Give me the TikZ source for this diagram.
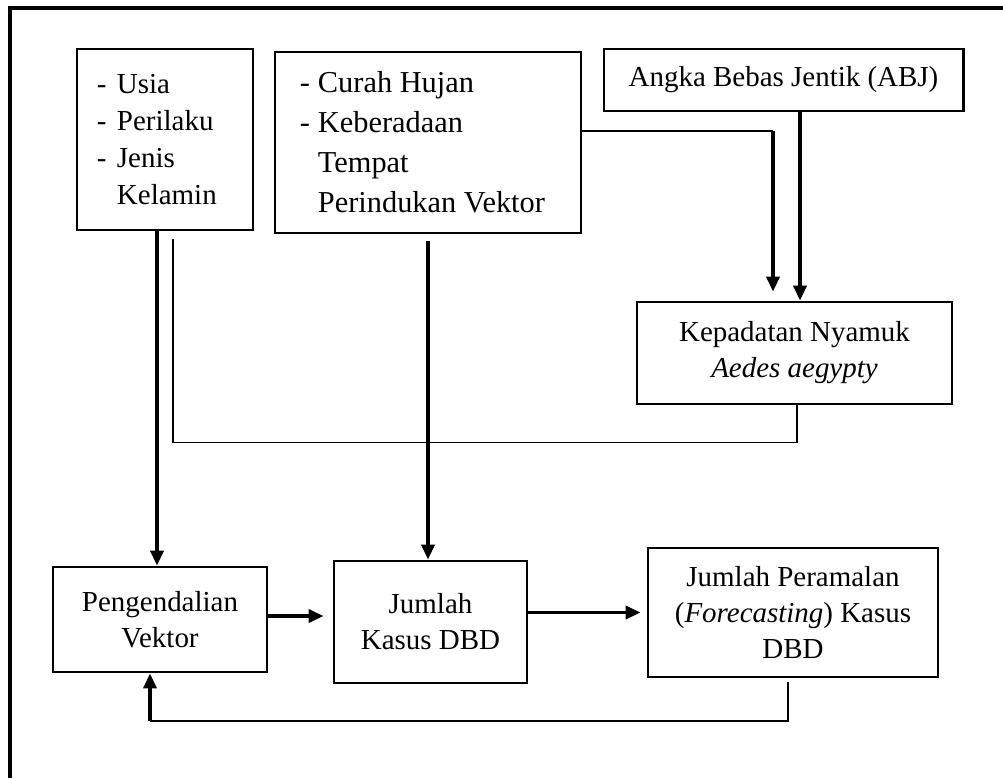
\documentclass[tikz,border=0pt]{standalone}
\usepackage{fontspec}
\setmainfont{Liberation Serif}
\usetikzlibrary{arrows.meta}

\tikzset{
  box/.style={draw, line width=0.072cm, inner sep=0pt, align=center,
    font=\fontsize{20.6}{25.6}\selectfont},
  arr/.style={line width=0.08cm, -{Triangle[length=0.375cm, width=0.33cm]}},
  link/.style={line width=0.038cm},
  frame/.style={line width=0.08cm}
}
\newcommand{\itemdash}[1]{\makebox[#1][l]{-}}

\begin{document}
\begin{tikzpicture}[x=0.025cm, y=-0.025cm]
    \useasboundingbox (0,0) rectangle (1003,778);
    \draw[frame] (10,778) -- (10,8) -- (1003,8);

    \node[box, minimum width=4.4cm, minimum height=4.525cm, text width=3.4cm, align=flush left,
      font=\fontsize{20.6}{26.3}\selectfont] (usia) at (165,139.5)
      {\itemdash{0.5cm}Usia\\\itemdash{0.5cm}Perilaku\\\itemdash{0.5cm}Jenis\\\hspace*{0.5cm}Kelamin};
    \node[box, minimum width=7.65cm, minimum height=4.525cm, text width=6.4cm, align=flush left,
      font=\fontsize{21.6}{28.4}\selectfont] (curah) at (428,142.5)
      {\itemdash{0.45cm}Curah Hujan\\\itemdash{0.45cm}Keberadaan\\\hspace*{0.45cm}Tempat\\\hspace*{0.45cm}Perindukan Vektor};
    \node[box, minimum width=8.975cm, minimum height=1.55cm] (abj) at (783.5,80) {Angka Bebas Jentik (ABJ)};
    \node[box, minimum width=7.875cm, minimum height=2.55cm] (nyamuk) at (794.5,353)
      {Kepadatan Nyamuk\\\textit{Aedes aegypty}};
    \node[box, minimum width=5.35cm, minimum height=2.625cm] (kendali) at (160,619.5) {Pengendalian\\Vektor};
    \node[box, minimum width=4.825cm, minimum height=3.05cm] (kasus) at (430.5,622) {Jumlah\\Kasus DBD};
    \node[box, minimum width=7.25cm, minimum height=3.225cm] (ramal) at (793,612.5)
      {Jumlah Peramalan\\(\textit{Forecasting}) Kasus\\DBD};

    \draw[arr] ([shift={(-3,0)}]usia.south -| kendali.north) -- ([shift={(-3,0)}]kendali.north);
    \draw[link] (nyamuk.south) ++(2.5,0) -- ++(0,37) -| ([shift={(8,8)}]usia.south);
    \draw[arr] ([shift={(0,7)}]curah.south) -- (curah.south |- kasus.north);

    \coordinate (bend) at (773,131);
    \draw[link] (curah.east |- bend) -- (bend);
    \draw[arr, shorten >=0.225cm] (bend) -- (bend |- nyamuk.north);
    \draw[arr] ([shift={(16.5,0)}]abj.south) -- ([shift={(5.5,0)}]nyamuk.north);

    \draw[arr, shorten >=0.225cm] ([shift={(0,-3.5)}]kendali.east) -- ([shift={(0,-3.5)}]kendali.east -| kasus.west);
    \draw[arr, shorten >=0.15cm] (kasus.east |- ramal.west) -- (ramal.west);

    \coordinate (loop) at (150,721);
    \draw[link] ([shift={(-5,4)}]ramal.south) |- (loop);
    \draw[arr] (loop) -- (loop |- kendali.south);
\end{tikzpicture}
\end{document}
